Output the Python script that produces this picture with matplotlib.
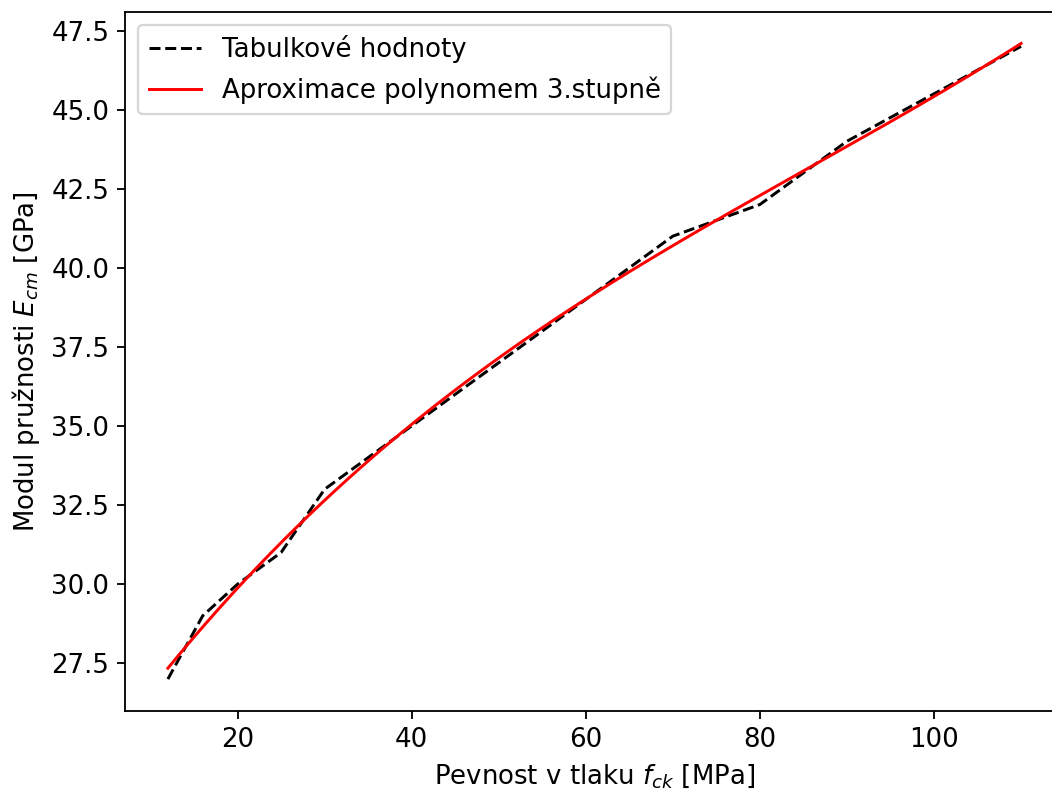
import matplotlib
matplotlib.use("Agg")
import matplotlib.pyplot as plt
import numpy as np

# pevnost betonu v tlaku fck [MPa] a modul pruznosti Ecm [GPa]
fck = [12, 16, 20, 25, 30, 35, 40, 45, 50, 55, 60, 70, 80, 90, 100, 110]
ecm = [27, 29, 30, 31, 33, 34, 35, 36, 37, 38, 39, 41, 42, 44, 45.5, 47]

# aproximace polynomem 3. stupne
koef = np.polyfit(fck, ecm, 3)
x_apr = np.linspace(min(fck), max(fck), 200)
y_apr = np.polyval(koef, x_apr)

plt.rcParams['font.size'] = 11.4

fig, ax = plt.subplots(figsize=(6.4, 4.8), dpi=164.4)
ax.plot(fck, ecm, 'k--', linewidth=1.3, label='Tabulkové hodnoty')
ax.plot(x_apr, y_apr, 'r-', linewidth=1.3, label='Aproximace polynomem 3.stupně')

ax.set_xlabel('Pevnost v tlaku $f_{ck}$ [MPa]')
ax.set_ylabel('Modul pružnosti $E_{cm}$ [GPa]')
ax.legend(loc='upper left')
# puvodni obrazek je vpravo oriznuty
plt.subplots_adjust(left=0.119, right=1.011, top=0.985, bottom=0.099)
plt.savefig('out.png')
